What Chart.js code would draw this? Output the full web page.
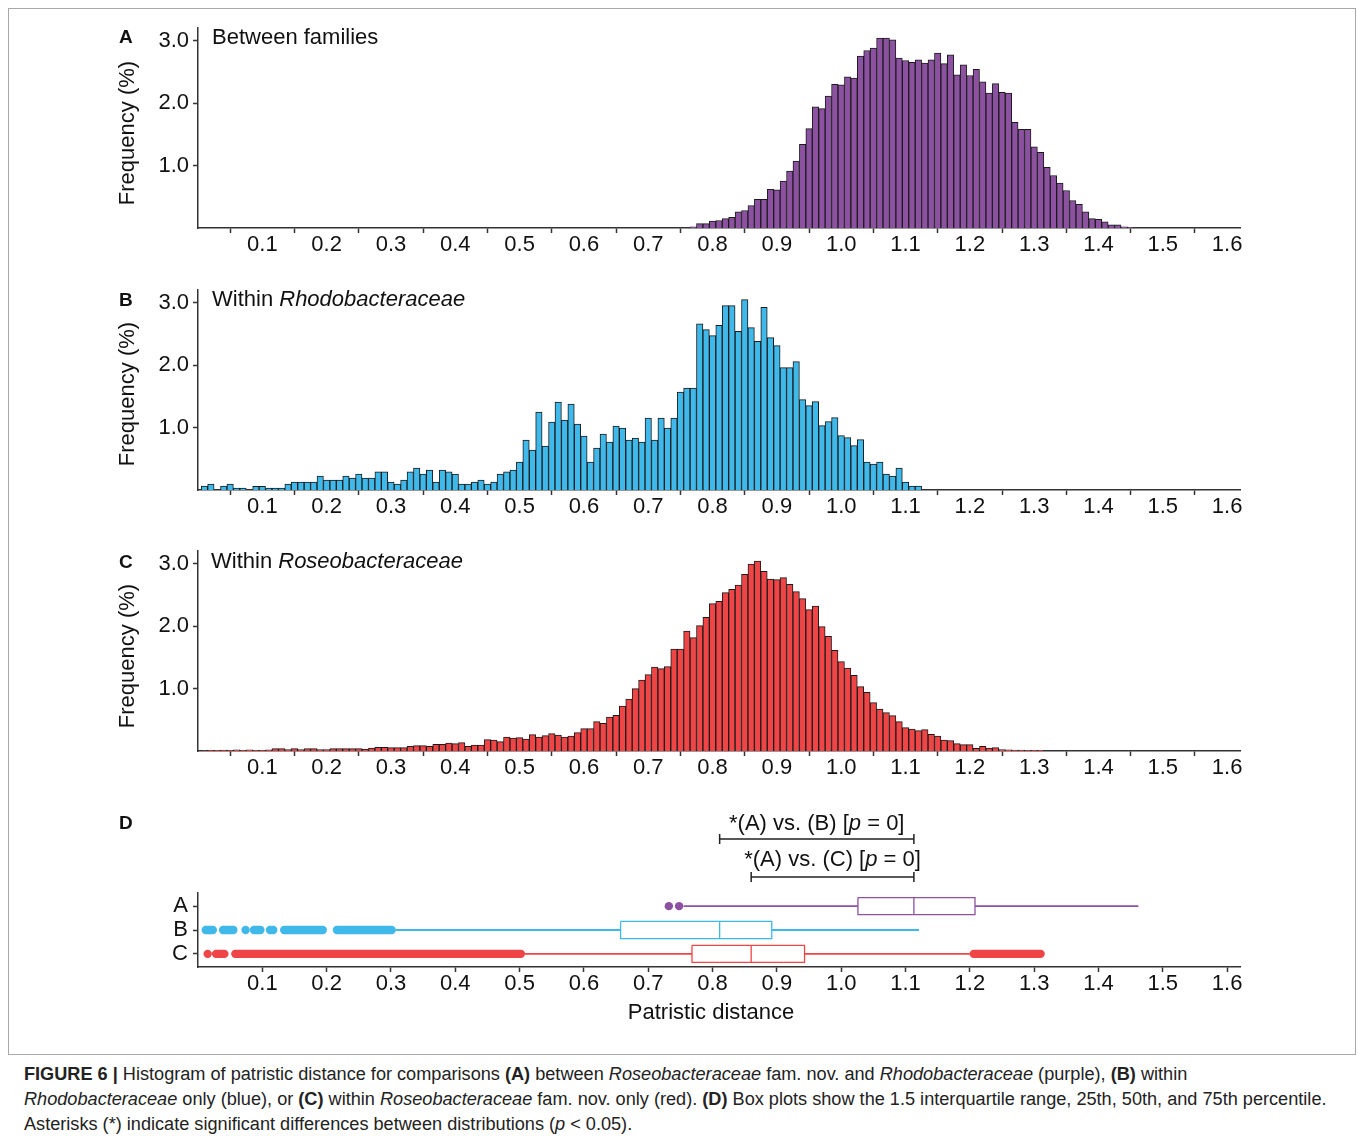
<!DOCTYPE html>
<html>
<head>
<meta charset="utf-8">
<title>Patristic distance histograms</title>
<script src="https://cdn.jsdelivr.net/npm/chart.js@4.4.1/dist/chart.umd.min.js"></script>
<style>
  body { margin: 0; background: #fff; font-family: "Liberation Sans", Arial, sans-serif; color: #111; }
  #page { position: relative; width: 1358px; height: 1141px; overflow: hidden; }
  #frame { position: absolute; left: 8px; top: 8px; width: 1348px; height: 1047px; border: 1px solid #a8a8a8; box-sizing: border-box; }
  canvas { position: absolute; left: 100px; }
  .txt { position: absolute; white-space: nowrap; font-size: 22px; line-height: 22px; }
  .letter { position: absolute; left: 119px; font-weight: bold; font-size: 19px; line-height: 19px; }
  .ytitle { position: absolute; left: 127px; white-space: nowrap; font-size: 22px; line-height: 22px; transform: translate(-50%, -50%) rotate(-90deg); }
  .cap { position: absolute; left: 24px; font-size: 18.15px; line-height: 25px; color: #222; white-space: nowrap; }
</style>
</head>
<body>
<div id="page">
  <div id="frame"></div>

  <canvas id="histA" width="1160" height="242" style="top:18px"></canvas>
  <canvas id="histB" width="1160" height="242" style="top:280px"></canvas>
  <canvas id="histC" width="1160" height="242" style="top:541px"></canvas>
  <canvas id="boxD" width="1160" height="240" style="top:800px"></canvas>

  <div class="letter" style="top:27px">A</div>
  <div class="letter" style="top:290px">B</div>
  <div class="letter" style="top:552px">C</div>
  <div class="letter" style="top:813px">D</div>

  <div class="txt" style="left:212px; top:26px">Between families</div>
  <div class="txt" style="left:212px; top:288px">Within <i>Rhodobacteraceae</i></div>
  <div class="txt" style="left:211px; top:550px">Within <i>Roseobacteraceae</i></div>

  <div class="ytitle" style="top:133px">Frequency (%)</div>
  <div class="ytitle" style="top:394px">Frequency (%)</div>
  <div class="ytitle" style="top:656px">Frequency (%)</div>

  <div class="txt" style="left:711px; top:1001px; transform:translateX(-50%)">Patristic distance</div>

  <div class="cap" style="top:1062px"><b>FIGURE 6 |</b> Histogram of patristic distance for comparisons <b>(A)</b> between <i>Roseobacteraceae</i> fam. nov. and <i>Rhodobacteraceae</i> (purple), <b>(B)</b> within</div>
  <div class="cap" style="top:1087px"><i>Rhodobacteraceae</i> only (blue), or <b>(C)</b> within <i>Roseobacteraceae</i> fam. nov. only (red). <b>(D)</b> Box plots show the 1.5 interquartile range, 25th, 50th, and 75th percentile.</div>
  <div class="cap" style="top:1112px">Asterisks (*) indicate significant differences between distributions (<i>p</i> &lt; 0.05).</div>
</div>

<script>
// histogram bins are 0.01 wide, values are frequency (%)
var xTicks = [0.1, 0.2, 0.3, 0.4, 0.5, 0.6, 0.7, 0.8, 0.9, 1.0, 1.1, 1.2, 1.3, 1.4, 1.5, 1.6];
var yTicks = [1, 2, 3];
var xMax = 1.62;

// A: between families, first bin 0.77
var startA = 0.77;
var freqA = [0.02, 0.07, 0.07, 0.11, 0.12, 0.15, 0.17, 0.26, 0.28, 0.36,
  0.46, 0.46, 0.62, 0.61, 0.75, 0.91, 1.07, 1.34, 1.59, 1.94,
  1.91, 2.11, 2.30, 2.29, 2.42, 2.40, 2.75, 2.84, 2.88, 3.04,
  3.04, 3.01, 2.72, 2.68, 2.65, 2.69, 2.64, 2.69, 2.80, 2.63,
  2.77, 2.45, 2.61, 2.44, 2.54, 2.34, 2.16, 2.31, 2.17, 2.16,
  1.69, 1.58, 1.58, 1.30, 1.21, 0.97, 0.84, 0.72, 0.60, 0.44,
  0.38, 0.26, 0.15, 0.14, 0.10, 0.05, 0.05, 0.02, 0.01];

// B: within Rhodobacteraceae, first bin 0.01
var startB = 0.01;
var freqB = [0.064, 0.096, 0, 0.064, 0.096, 0.032, 0.032, 0, 0.06, 0.06,
  0.03, 0.03, 0.03, 0.096, 0.128, 0.128, 0.128, 0.128, 0.224, 0.16,
  0.16, 0.16, 0.224, 0.19, 0.256, 0.19, 0.19, 0.29, 0.29, 0.128,
  0.096, 0.16, 0.29, 0.35, 0.256, 0.32, 0.128, 0.32, 0.29, 0.256,
  0.096, 0.096, 0.128, 0.16, 0.096, 0.128, 0.256, 0.29, 0.32, 0.448,
  0.80, 0.64, 1.248, 0.704, 1.088, 1.408, 1.12, 1.376, 1.056, 0.864,
  0.448, 0.672, 0.896, 0.768, 1.024, 0.992, 0.80, 0.832, 0.768, 1.152,
  0.80, 1.152, 0.992, 1.152, 1.568, 1.632, 1.632, 2.66, 2.565, 2.47,
  2.635, 2.95, 2.95, 2.54, 3.045, 2.597, 2.379, 2.923, 2.437, 2.309,
  1.957, 1.957, 2.053, 1.445, 1.349, 1.413, 1.029, 1.093, 1.157, 0.869,
  0.837, 0.709, 0.805, 0.448, 0.416, 0.448, 0.256, 0.224, 0.352, 0.128,
  0.064, 0.064];

// C: within Roseobacteraceae, first bin 0.01
var startC = 0.01;
var freqC = [0.005, 0.01, 0.01, 0.015, 0.01, 0.02, 0.01, 0.02, 0.01, 0.01,
  0.02, 0.037, 0.037, 0.021, 0.037, 0.021, 0.037, 0.037, 0.021, 0.021,
  0.037, 0.037, 0.037, 0.037, 0.037, 0.032, 0.048, 0.059, 0.059, 0.053,
  0.053, 0.053, 0.075, 0.085, 0.085, 0.075, 0.107, 0.107, 0.128, 0.117,
  0.133, 0.075, 0.096, 0.096, 0.181, 0.176, 0.149, 0.224, 0.208, 0.213,
  0.192, 0.261, 0.224, 0.245, 0.277, 0.256, 0.224, 0.24, 0.293, 0.357,
  0.357, 0.469, 0.443, 0.544, 0.571, 0.72, 0.832, 0.997, 1.136, 1.221,
  1.344, 1.317, 1.349, 1.632, 1.632, 1.92, 1.813, 2.005, 2.139, 2.357,
  2.395, 2.533, 2.587, 2.656, 2.827, 2.992, 3.04, 2.875, 2.752, 2.741,
  2.773, 2.667, 2.549, 2.437, 2.261, 2.32, 1.989, 1.835, 1.611, 1.429,
  1.328, 1.211, 1.029, 0.939, 0.773, 0.672, 0.613, 0.565, 0.469, 0.373,
  0.352, 0.325, 0.341, 0.267, 0.24, 0.176, 0.165, 0.117, 0.101, 0.101,
  0.043, 0.075, 0.048, 0.053, 0.021, 0.02, 0.015, 0.015, 0.01, 0.01, 0.01];

// D: box plots (A, B, C from top)
var boxRows = ['A', 'B', 'C'];
var q1 = [1.026, 0.657, 0.768];
var median = [1.113, 0.811, 0.860];
var q3 = [1.208, 0.892, 0.943];
var whiskerLo = [0.755, 0.307, 0.508];
var whiskerHi = [1.462, 1.121, 1.200];
// single outliers and dense runs of outliers
var outliersA = [0.732, 0.748];
var outliersB = [0.074];
var outlierRunsB = [[0.012, 0.023], [0.039, 0.055], [0.087, 0.097], [0.112, 0.117], [0.134, 0.194], [0.216, 0.301]];
var outliersC = [0.015];
var outlierRunsC = [[0.028, 0.041], [0.058, 0.502], [1.206, 1.31]];

// significance tests: [group, group]
var sigPairs = [[0, 1], [0, 2]];
var sigLabels = [['*(A) vs. (B) [', 'p', ' = 0]'], ['*(A) vs. (C) [', 'p', ' = 0]']];

var colors = ['#8c52a1', '#3fb8ea', '#ef4546'];
var axisColor = '#333';
var fontFamily = '"Liberation Sans", Arial, sans-serif';
var tickFont = { family: fontFamily, size: 22, lineHeight: 1.1 };

function binCentres(start, n) {
  var out = [];
  for (var i = 0; i < n; i++) out.push(Math.round((start + i * 0.01) * 100) / 100);
  return out;
}

function xAxis(height) {
  return {
    type: 'linear',
    min: 0,
    max: xMax,
    offset: false,
    afterBuildTicks: function (s) { s.ticks = xTicks.map(function (v) { return { value: v }; }); },
    afterFit: function (s) { s.height = height; s.paddingLeft = 0; s.paddingRight = 0; },
    ticks: {
      autoSkip: false, maxRotation: 0, padding: 0, color: '#111', font: tickFont,
      callback: function (v) { return v.toFixed(1); }
    },
    grid: { drawOnChartArea: false, tickLength: 5, tickColor: axisColor, tickWidth: 1.5 },
    border: { color: axisColor, width: 1.5 }
  };
}

function yFit(s) { s.width = 98; s.paddingTop = 0; s.paddingBottom = 0; }

function histChart(id, start, freq, color) {
  var bins = binCentres(start, freq.length);
  var points = bins.map(function (b, i) { return { x: b, y: freq[i] }; });
  return new Chart(document.getElementById(id), {
    type: 'bar',
    data: {
      datasets: [{
        data: points,
        backgroundColor: color,
        borderColor: '#1b1b1b',
        borderWidth: 1,
        barPercentage: 1,
        categoryPercentage: 1
      }]
    },
    options: {
      responsive: false,
      animation: false,
      devicePixelRatio: 1,
      layout: { padding: { top: 10, right: 20, left: 0, bottom: 0 } },
      plugins: { legend: { display: false }, tooltip: { enabled: false } },
      scales: {
        x: xAxis(32),
        y: {
          min: 0,
          max: 3.2,
          afterBuildTicks: function (s) { s.ticks = yTicks.map(function (v) { return { value: v }; }); },
          afterFit: yFit,
          ticks: { padding: 4, color: '#111', font: tickFont, callback: function (v) { return v.toFixed(1); } },
          grid: { drawOnChartArea: false, tickLength: 5, tickColor: axisColor, tickWidth: 1.5 },
          border: { color: axisColor, width: 1.5 }
        }
      }
    }
  });
}

histChart('histA', startA, freqA, colors[0]);
histChart('histB', startB, freqB, colors[1]);
histChart('histC', startC, freqC, colors[2]);

// box plot datasets
var boxHalf = 0.36;
var boxSets = [];
function segment(data, color, width, cap) {
  boxSets.push({
    type: 'line', data: data, showLine: true, fill: false, borderColor: color, borderWidth: width,
    borderCapStyle: cap || 'butt', pointRadius: 0, tension: 0
  });
}
var singles = [outliersA, outliersB, outliersC];
var runs = [[], outlierRunsB, outlierRunsC];
boxRows.forEach(function (name, i) {
  var y = i + 1;
  var c = colors[i];
  runs[i].forEach(function (r) { segment([{ x: r[0], y: y }, { x: r[1], y: y }], c, 8.4, 'round'); });
  boxSets.push({
    type: 'scatter', data: singles[i].map(function (v) { return { x: v, y: y }; }),
    pointRadius: 4.2, backgroundColor: c, borderWidth: 0
  });
  segment([{ x: whiskerLo[i], y: y }, { x: q1[i], y: y }], c, 1.8);
  segment([{ x: q3[i], y: y }, { x: whiskerHi[i], y: y }], c, 1.8);
  segment([
    { x: q1[i], y: y - boxHalf }, { x: q3[i], y: y - boxHalf }, { x: q3[i], y: y + boxHalf },
    { x: q1[i], y: y + boxHalf }, { x: q1[i], y: y - boxHalf }
  ], c, 1.3);
  segment([{ x: median[i], y: y - boxHalf }, { x: median[i], y: y + boxHalf }], c, 1.3);
});

// brackets with test labels above the box plots
var sigPlugin = {
  id: 'sig',
  afterDraw: function (chart) {
    var ctx = chart.ctx, xs = chart.scales.x, top = chart.chartArea.top;
    var lineOffsets = [54, 16], textOffsets = [63, 27];
    ctx.save();
    sigPairs.forEach(function (pair, k) {
      var xa = xs.getPixelForValue(median[pair[0]]);
      var xb = xs.getPixelForValue(median[pair[1]]);
      var x1 = Math.min(xa, xb), x2 = Math.max(xa, xb);
      var ly = top - lineOffsets[k];
      ctx.strokeStyle = '#222';
      ctx.lineWidth = 1.5;
      ctx.beginPath();
      ctx.moveTo(x1, ly); ctx.lineTo(x2, ly);
      ctx.moveTo(x1, ly - 5); ctx.lineTo(x1, ly + 5);
      ctx.moveTo(x2, ly - 5); ctx.lineTo(x2, ly + 5);
      ctx.stroke();
      var parts = sigLabels[k];
      var fonts = ['22px ' + fontFamily, 'italic 22px ' + fontFamily, '22px ' + fontFamily];
      var total = 0, widths = [];
      parts.forEach(function (p, j) { ctx.font = fonts[j]; widths.push(ctx.measureText(p).width); total += widths[j]; });
      var x = (x1 + x2) / 2 - total / 2;
      ctx.fillStyle = '#111';
      ctx.textBaseline = 'alphabetic';
      ctx.textAlign = 'left';
      parts.forEach(function (p, j) { ctx.font = fonts[j]; ctx.fillText(p, x, top - textOffsets[k]); x += widths[j]; });
    });
    ctx.restore();
  }
};

new Chart(document.getElementById('boxD'), {
  type: 'scatter',
  data: { datasets: boxSets },
  options: {
    responsive: false,
    animation: false,
    devicePixelRatio: 1,
    layout: { padding: { top: 93, right: 20, left: 0, bottom: 0 } },
    plugins: { legend: { display: false }, tooltip: { enabled: false } },
    scales: {
      x: xAxis(73),
      y: {
        type: 'linear',
        min: 0.45,
        max: 3.55,
        reverse: true,
        afterBuildTicks: function (s) { s.ticks = [1, 2, 3].map(function (v) { return { value: v }; }); },
        afterFit: yFit,
        ticks: { padding: 5, color: '#111', font: tickFont, callback: function (v) { return boxRows[v - 1]; } },
        grid: { drawOnChartArea: false, tickLength: 5, tickColor: axisColor, tickWidth: 1.5 },
        border: { color: axisColor, width: 1.5 }
      }
    }
  },
  plugins: [sigPlugin]
});
</script>
</body>
</html>
